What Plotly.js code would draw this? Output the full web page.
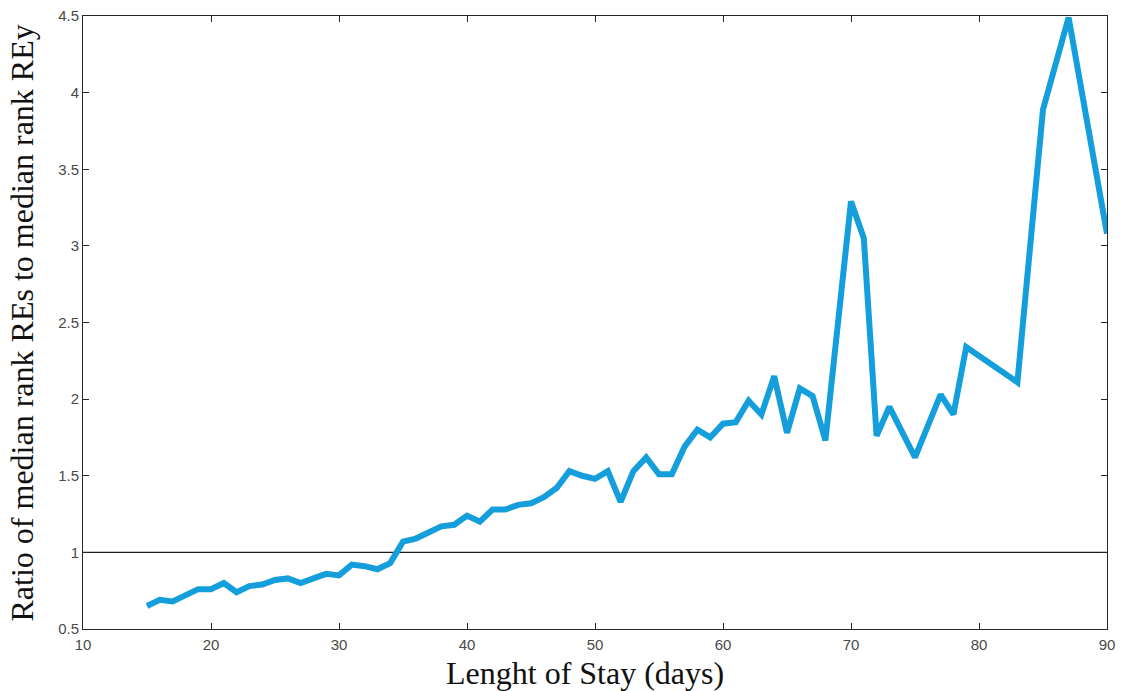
<!DOCTYPE html>
<html>
<head>
<meta charset="utf-8">
<script src="https://cdn.plot.ly/plotly-3.0.1.min.js"></script>
<style>html,body{margin:0;padding:0;background:#fff;}#chart{width:1126px;height:691px;}</style>
</head>
<body>
<div id="chart"></div>
<script>
const days = [15,16,17,18,19,20,21,22,23,24,25,26,27,28,29,30,31,32,33,34,35,36,37,38,39,40,41,42,43,44,45,46,47,48,49,50,51,52,53,54,55,56,57,58,59,60,61,62,63,64,65,66,67,68,70,71,72,73,75,77,78,79,83,85,87,90];
const ratio = [0.65,0.69,0.68,0.72,0.76,0.76,0.80,0.74,0.78,0.79,0.82,0.83,0.80,0.83,0.86,0.85,0.92,0.91,0.89,0.93,1.07,1.09,1.13,1.17,1.18,1.24,1.20,1.28,1.28,1.31,1.32,1.36,1.42,1.53,1.50,1.48,1.53,1.33,1.53,1.62,1.51,1.51,1.69,1.80,1.75,1.84,1.85,1.99,1.90,2.15,1.78,2.07,2.02,1.73,3.29,3.05,1.76,1.95,1.62,2.03,1.90,2.34,2.11,3.89,4.49,3.08];
const refX = [10, 90];
const refY = [1, 1];
const xTicks = [10,20,30,40,50,60,70,80,90];
const yTicks = [0.5,1,1.5,2,2.5,3,3.5,4,4.5];
const yTickText = ['0.5','1','1.5','2','2.5','3','3.5','4','4.5'];
const xTitle = 'Lenght of Stay (days)';
const yTitle = 'Ratio of median rank REs to median rank REy';

const traces = [
  {x: refX, y: refY, mode: 'lines', line: {color: '#1a1a1a', width: 1.3}, hoverinfo: 'skip'},
  {x: days, y: ratio, mode: 'lines', line: {color: '#149fdc', width: 6}}
];
const tickFont = {family: 'Liberation Sans, Arial, sans-serif', size: 15, color: '#4a4a4a'};
const titleFont = {family: 'Liberation Serif, Times New Roman, serif', size: 32, color: '#111'};
const layout = {
  width: 1126, height: 691,
  margin: {l: 83, r: 19, t: 16, b: 62},
  paper_bgcolor: '#fff', plot_bgcolor: '#fff',
  showlegend: false,
  xaxis: {
    range: [10, 90], tickvals: xTicks, ticks: 'inside', ticklen: 6, tickcolor: '#262626',
    showline: true, linecolor: '#262626', linewidth: 1, mirror: 'ticks', showgrid: false, zeroline: false,
    tickfont: tickFont, ticklabelstandoff: 2
  },
  yaxis: {
    range: [0.5, 4.5], tickvals: yTicks, ticktext: yTickText, ticks: 'inside', ticklen: 6, tickcolor: '#262626',
    showline: true, linecolor: '#262626', linewidth: 1, mirror: 'ticks', showgrid: false, zeroline: false,
    tickfont: tickFont
  },
  annotations: [
    {text: xTitle, xref: 'paper', yref: 'paper', x: 0.490, y: -0.0718, xanchor: 'center', yanchor: 'middle', showarrow: false, font: titleFont},
    {text: yTitle, xref: 'paper', yref: 'paper', x: -0.0596, y: 0.5, xanchor: 'center', yanchor: 'middle', textangle: -90, showarrow: false, font: titleFont}
  ]
};
Plotly.newPlot('chart', traces, layout, {displayModeBar: false, staticPlot: true});
</script>
</body>
</html>
